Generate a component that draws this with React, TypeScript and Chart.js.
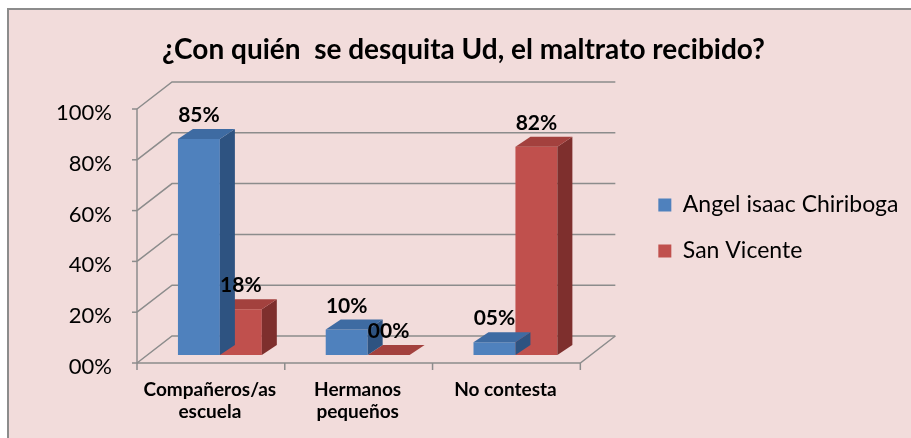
import React, { useEffect, useRef } from 'react';
import { Chart, registerables } from 'chart.js';

Chart.register(...registerables);

// ---- data ----
const TITLE = '¿Con quién  se desquita Ud, el maltrato recibido?';
const CATEGORIES: (string | string[])[] = [['Compañeros/as', 'escuela'], ['Hermanos', 'pequeños'], 'No contesta'];
const SERIES_NAMES = ['Angel isaac Chiriboga', 'San Vicente'];
const ANGEL_ISAAC = [85, 10, 5];
const SAN_VICENTE = [18, 0, 82];
const Y_TICKS = [0, 20, 40, 60, 80, 100];

// ---- style ----
const FRONT_COLORS = ['#4f81bd', '#c0504d'];
const TOP_COLORS = ['#3e6ba2', '#a3413e'];
const SIDE_COLORS = ['#2e5381', '#7e2f2d'];
const GRID = '#8c8c8c';
const FRONT = { dx: -9, dy: 8 };
const BACK = { dx: 26, dy: -19 };
const DEPTH = { dx: 15, dy: -10 };

const pct = (v: number) => String(v).padStart(2, '0') + '%';

const box3d = {
  id: 'box3d',
  beforeDatasetsDraw(chart: any) {
    const { ctx, scales } = chart;
    const x = scales.x, y = scales.y;
    const L = x.left, R = x.right;
    ctx.save();
    ctx.strokeStyle = GRID;
    ctx.lineWidth = 1.5;
    const line = (pts: number[][]) => {
      ctx.beginPath();
      ctx.moveTo(pts[0][0], pts[0][1]);
      for (let i = 1; i < pts.length; i++) ctx.lineTo(pts[i][0], pts[i][1]);
      ctx.stroke();
    };
    Y_TICKS.forEach((v) => {
      const py = y.getPixelForValue(v);
      line([[L + FRONT.dx, py + FRONT.dy], [L + BACK.dx, py + BACK.dy], [R + BACK.dx, py + BACK.dy]]);
      line([[L + FRONT.dx - 5, py + FRONT.dy], [L + FRONT.dx, py + FRONT.dy]]);
    });
    const y0 = y.getPixelForValue(0);
    const y100 = y.getPixelForValue(100);
    line([[L + FRONT.dx, y100 + FRONT.dy], [L + FRONT.dx, y0 + FRONT.dy]]);
    line([[L + FRONT.dx, y0 + FRONT.dy], [R + FRONT.dx, y0 + FRONT.dy], [R + BACK.dx, y0 + BACK.dy]]);
    const n = chart.data.labels.length;
    const step = (R - L) / n;
    for (let i = 0; i <= n; i++) {
      const bx = L + i * step + FRONT.dx;
      line([[bx, y0 + FRONT.dy], [bx, y0 + FRONT.dy + 7]]);
    }
    ctx.restore();
  },
  afterDatasetDraw(chart: any, args: any) {
    const { ctx } = chart;
    const di = args.index;
    ctx.save();
    args.meta.data.forEach((bar: any) => {
      const { x, y, base, width } = bar.getProps(['x', 'y', 'base', 'width'], true);
      const l = x - width / 2, r = x + width / 2;
      const top = Math.min(y, base), bot = Math.max(y, base);
      ctx.fillStyle = SIDE_COLORS[di];
      ctx.beginPath();
      ctx.moveTo(r, top);
      ctx.lineTo(r + DEPTH.dx, top + DEPTH.dy);
      ctx.lineTo(r + DEPTH.dx, bot + DEPTH.dy);
      ctx.lineTo(r, bot);
      ctx.closePath();
      ctx.fill();
      ctx.fillStyle = TOP_COLORS[di];
      ctx.beginPath();
      ctx.moveTo(l, top);
      ctx.lineTo(r, top);
      ctx.lineTo(r + DEPTH.dx, top + DEPTH.dy);
      ctx.lineTo(l + DEPTH.dx, top + DEPTH.dy);
      ctx.closePath();
      ctx.fill();
    });
    ctx.restore();
  },
  afterDatasetsDraw(chart: any) {
    const { ctx } = chart;
    ctx.save();
    ctx.fillStyle = '#000';
    ctx.font = 'bold 21px Lato';
    ctx.textAlign = 'center';
    ctx.textBaseline = 'alphabetic';
    chart.data.datasets.forEach((ds: any, di: number) => {
      const meta = chart.getDatasetMeta(di);
      meta.data.forEach((bar: any, i: number) => {
        const { x, y, base } = bar.getProps(['x', 'y', 'base'], true);
        const top = Math.min(y, base);
        ctx.fillText(pct(ds.data[i]), x, top - 17);
      });
    });
    ctx.restore();
  },
};

export default function App() {
  const ref = useRef<HTMLCanvasElement>(null);
  useEffect(() => {
    const chart = new Chart(ref.current as HTMLCanvasElement, {
      type: 'bar',
      data: {
        labels: CATEGORIES as any,
        datasets: [
          { label: SERIES_NAMES[0], data: ANGEL_ISAAC, backgroundColor: FRONT_COLORS[0], borderWidth: 0, categoryPercentage: 0.5676, barPercentage: 1 },
          { label: SERIES_NAMES[1], data: SAN_VICENTE, backgroundColor: FRONT_COLORS[1], borderWidth: 0, categoryPercentage: 0.5676, barPercentage: 1 },
        ],
      },
      options: {
        responsive: false,
        animation: false,
        devicePixelRatio: 1,
        events: [],
        layout: { padding: { left: 9.5, right: 2.5, top: 0, bottom: 0 } },
        plugins: {
          title: {
            display: true,
            text: TITLE,
            color: '#000',
            font: { family: 'Lato', size: 28, weight: 'bold', lineHeight: 1.2 },
            padding: { top: 23.2, bottom: 34.2 },
          },
          legend: {
            position: 'right',
            fullSize: false,
            maxWidth: 290,
            labels: { boxWidth: 13, boxHeight: 13, padding: 23, color: '#000', font: { family: 'Lato', size: 23 } },
          },
          tooltip: { enabled: false },
        },
        scales: {
          x: {
            grid: { display: false, drawTicks: false },
            border: { display: false },
            ticks: {
              padding: 24,
              labelOffset: -10,
              color: '#000',
              font: { family: 'Lato', size: 19, weight: 'bold', lineHeight: '22px' },
              maxRotation: 0,
              autoSkip: false,
            },
            afterFit: (s: any) => { s.height = 83; },
          },
          y: {
            min: 0,
            max: 100,
            grid: { display: false, drawTicks: false },
            border: { display: false },
            ticks: {
              stepSize: 20,
              padding: 34,
              labelOffset: 12,
              color: '#000',
              font: { family: 'Lato', size: 22 },
              callback: (v: any) => pct(Number(v)),
            },
            afterFit: (s: any) => { s.width = 127.5; },
          },
          y2: {
            position: 'right',
            display: true,
            grid: { display: false, drawTicks: false },
            border: { display: false },
            ticks: { display: false },
            afterFit: (s: any) => { s.width = 46; },
          },
        },
      } as any,
      plugins: [box3d],
    });
    return () => chart.destroy();
  }, []);

  return (
    <div
      style={{
        position: 'fixed',
        left: 7,
        top: 8,
        width: 904,
        height: 430,
        boxSizing: 'border-box',
        borderLeft: '2px solid #8c8c8c',
        borderTop: '2px solid #8c8c8c',
        background: '#f2dcdb',
      }}
    >
      <canvas ref={ref} width={902} height={428} style={{ display: 'block', width: 902, height: 428 }} />
    </div>
  );
}
